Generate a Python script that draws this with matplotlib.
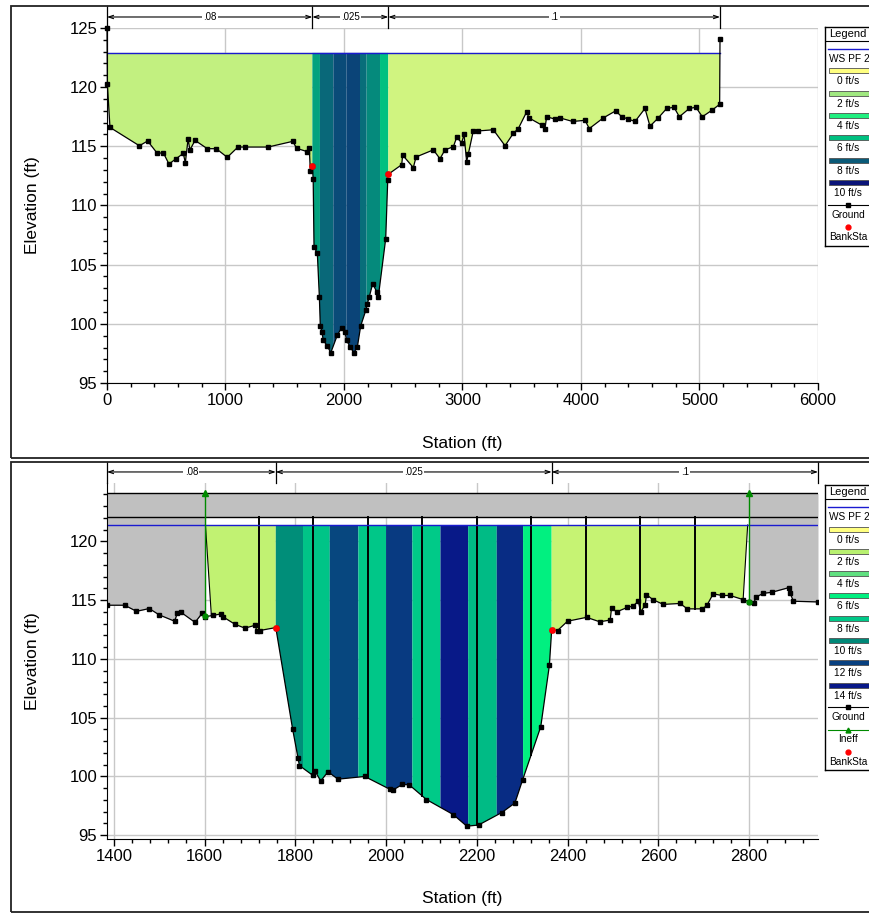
import numpy as np
import matplotlib
matplotlib.use("Agg")
import matplotlib.pyplot as plt
from matplotlib.colors import LinearSegmentedColormap
from matplotlib.patches import Rectangle, Polygon
from matplotlib.transforms import blended_transform_factory
from matplotlib.ticker import MultipleLocator

plt.rcParams["font.family"] = ["Liberation Sans", "DejaVu Sans"]

W, H = 870, 913

# ---- upper cross section -------------------------------------------------
top_sta = [0, 3, 25, 273, 343, 425, 475, 523, 582, 644, 661, 684, 700, 743, 847, 922,
           1015, 1105, 1165, 1359, 1567, 1601, 1690, 1707, 1716, 1733, 1740, 1747, 1775,
           1792, 1800, 1814, 1825, 1859, 1888, 1944, 1980, 2008, 2022, 2051, 2084, 2113,
           2141, 2186, 2197, 2214, 2242, 2276, 2290, 2352, 2369, 2374, 2487, 2495, 2585,
           2608, 2754, 2810, 2852, 2923, 2951, 2993, 3013, 3035, 3049, 3091, 3133, 3260,
           3359, 3429, 3471, 3541, 3561, 3668, 3696, 3710, 3781, 3823, 3930, 4034, 4070,
           4188, 4293, 4343, 4399, 4456, 4540, 4582, 4652, 4723, 4785, 4830, 4914, 4970,
           5024, 5108, 5170, 5173]
top_elev = [125.0, 120.3, 116.6, 115.05, 115.45, 114.4, 114.46, 113.5, 113.95, 114.4, 113.6,
            115.6, 114.7, 115.5, 114.8, 114.8, 114.07, 114.94, 114.94, 114.94, 115.42,
            114.83, 114.55, 114.88, 112.9, 113.36, 112.2, 106.5, 105.96, 102.3, 99.83, 99.3,
            98.6, 98.14, 97.55, 99.05, 99.67, 99.33, 98.6, 98.06, 97.55, 98.06, 99.83,
            101.2, 101.7, 102.3, 103.4, 102.7, 102.3, 107.2, 112.15, 112.64, 113.45, 114.26,
            113.2, 114.1, 114.7, 113.95, 114.7, 114.97, 115.76, 115.3, 116.0, 113.7, 114.35,
            116.3, 116.3, 116.4, 115.05, 116.1, 116.5, 117.9, 117.4, 116.8, 116.5, 117.5,
            117.3, 117.4, 117.1, 117.2, 116.5, 117.4, 118.0, 117.5, 117.3, 117.1, 118.2,
            116.7, 117.4, 118.2, 118.3, 117.5, 118.2, 118.3, 117.5, 118.07, 118.55, 124.05]
top_bank_sta = [1733, 2374]
top_bank_elev = [113.36, 112.64]
top_ws = 122.9
top_n_sta = [0, 1733, 2374, 5173]
top_n_val = [".08", ".025", ".1"]
top_slice_sta = [0, 1733, 1797, 1910, 2020, 2135, 2191, 2304, 2374, 5173]
top_slice_vel = [1.3, 6.6, 7.7, 8.4, 8.6, 7.6, 7.05, 6.0, 1.0]
top_vel_levels = [0, 2, 4, 6, 8, 10]
top_vel_colors = ["#ffff80", "#a0e880", "#20f080", "#00c080", "#0a5a78", "#0a1478"]

# ---- lower cross section -------------------------------------------------
bot_sta = [1384, 1424, 1450, 1478, 1500, 1534, 1540, 1547, 1579, 1595, 1601, 1619, 1637,
           1640, 1667, 1689, 1711, 1716, 1722, 1757, 1794, 1806, 1809, 1838, 1843, 1856,
           1872, 1894, 1953, 2008, 2016, 2036, 2051, 2089, 2148, 2178, 2204, 2255, 2284,
           2301, 2341, 2360, 2365, 2378, 2400, 2442, 2471, 2494, 2497, 2508, 2532, 2544,
           2556, 2561, 2571, 2574, 2588, 2611, 2648, 2664, 2697, 2707, 2721, 2740, 2758,
           2787, 2801, 2811, 2815, 2831, 2850, 2887, 2890, 2898, 2952]
bot_elev = [114.57, 114.57, 114.05, 114.29, 113.75, 113.21, 113.9, 114.0, 113.11, 113.9,
            113.6, 113.7, 113.84, 113.6, 112.95, 112.62, 112.86, 112.35, 112.42, 112.67,
            104.05, 101.58, 100.93, 100.11, 100.5, 99.61, 100.4, 99.77, 100.0, 98.92, 98.86,
            99.32, 99.29, 98.04, 96.76, 95.77, 95.87, 96.93, 97.74, 99.71, 104.24, 109.46,
            112.46, 112.42, 113.21, 113.54, 113.16, 113.31, 114.34, 114.0, 114.39, 114.49,
            114.91, 114.0, 114.57, 115.47, 115.05, 114.64, 114.72, 114.26, 114.26, 114.55,
            115.54, 115.4, 115.4, 115.05, 114.85, 114.78, 115.25, 115.58, 115.67, 116.06,
            115.63, 114.91, 114.85]
bot_bank_sta = [1757, 2365]
bot_bank_elev = [112.67, 112.46]
bot_ws = 121.4
bot_ineff_sta = [1600, 2800]
bot_ineff_elev = 124.1
bot_lid_elev = 122.05
bot_eff_top = [1602, 2797]
bot_eff_toe = [1615, 2787]
bot_dist_lines = [1720, 1840, 1960, 2080, 2200, 2320, 2440, 2560, 2680]
bot_n_sta = [1385, 1757, 2365, 2952]
bot_n_val = [".08", ".025", ".1"]
bot_slice_sta = [1602, 1757, 1817, 1876, 1939, 2000, 2058, 2120, 2181, 2244, 2302, 2365, 2797]
bot_slice_vel = [1.8, 9.8, 8.1, 11.8, 8.0, 12.3, 7.9, 13.9, 8.4, 13.0, 6.0, 1.6]
bot_vel_levels = [0, 2, 4, 6, 8, 10, 12, 14]
bot_vel_colors = ["#ffff80", "#b8f070", "#60e080", "#00f080", "#00c888", "#008878",
                  "#084080", "#081888"]

WS_COLOR = "#1a1ad0"
GRAY = "#c0c0c0"
INEFF_GREEN = "#008a00"


def make_cmap(levels, colors):
    vmax = levels[-1]
    return LinearSegmentedColormap.from_list(
        "vel", [(lv / vmax, c) for lv, c in zip(levels, colors)]), vmax


def fill_slices(ax, sta, elev, ws, edges, vels, cmap, vmax, toe=None):
    sta = np.asarray(sta, float)
    elev = np.asarray(elev, float)
    for i, v in enumerate(vels):
        a, b = edges[i], edges[i + 1]
        a_bot, b_bot = a, b
        if toe is not None and i == 0:
            a_bot = toe[0]
        if toe is not None and i == len(vels) - 1:
            b_bot = toe[1]
        xs = np.concatenate([[a_bot], sta[(sta > a_bot) & (sta < b_bot)], [b_bot]])
        ys = np.minimum(np.interp(xs, sta, elev), ws)
        poly = [(a, ws)] + list(zip(xs, ys)) + [(b, ws)]
        ax.add_patch(Polygon(poly, closed=True, facecolor=cmap(v / vmax),
                             edgecolor="none", zorder=1))


def roughness_bar(ax, edges, labels, y_line, y_t0, y_t1):
    tr = blended_transform_factory(ax.transData, ax.transAxes)
    for s in edges:
        ax.plot([s, s], [y_t0, y_t1], transform=tr, color="k", lw=0.9, clip_on=False)
    for a, b, lab in zip(edges[:-1], edges[1:], labels):
        ax.annotate("", xy=(a, y_line), xytext=(b, y_line), xycoords=tr, textcoords=tr,
                    arrowprops=dict(arrowstyle="<->,head_length=0.35,head_width=0.12",
                                    lw=0.8, color="k", shrinkA=0, shrinkB=0),
                    annotation_clip=False)
        ax.text((a + b) / 2, y_line, lab, transform=tr, ha="center", va="center",
                fontsize=7, bbox=dict(facecolor="white", edgecolor="none", pad=1.0),
                clip_on=False)


def style_axes(ax, xmaj, xmin, xlabel_y):
    ax.xaxis.set_major_locator(MultipleLocator(xmaj))
    ax.xaxis.set_minor_locator(MultipleLocator(xmin))
    ax.yaxis.set_major_locator(MultipleLocator(5))
    ax.yaxis.set_minor_locator(MultipleLocator(1))
    ax.tick_params(which="major", direction="out", length=5, width=1, labelsize=12, pad=2)
    ax.tick_params(which="minor", direction="out", length=3, width=1)
    ax.grid(True, which="major", color="#c8c8c8", lw=1)
    ax.set_axisbelow(True)
    for side in ("top", "right"):
        ax.spines[side].set_visible(False)
    ax.set_xlabel("Station (ft)", fontsize=12.5)
    ax.set_ylabel("Elevation (ft)", fontsize=12.5)
    ax.xaxis.set_label_coords(0.5, xlabel_y)
    ax.yaxis.set_label_coords(-0.094, 0.5)


def draw_legend(fig, top, bottom, levels, colors, ineff):
    x0, x1 = 825, 874
    lax = fig.add_axes([x0 / W, 1 - bottom / H, (x1 - x0) / W, (bottom - top) / H])
    lax.set_xlim(x0, x1)
    lax.set_ylim(bottom, top)
    lax.set_xticks([])
    lax.set_yticks([])
    for sp in lax.spines.values():
        sp.set_linewidth(1.0)
    cx = 848
    lax.text(cx, top + 7, "Legend", ha="center", va="center", fontsize=8)
    lax.plot([x0, x1], [top + 14, top + 14], color="k", lw=0.8)
    lax.plot([828, x1], [top + 22, top + 22], color=WS_COLOR, lw=1)
    lax.text(829, top + 32, "WS PF 2", ha="left", va="center", fontsize=7.3)
    y = top + 44
    for lv, col in zip(levels, colors):
        lax.add_patch(Rectangle((829, y - 2.5), 46, 5, facecolor=col,
                                edgecolor="#505050", lw=0.6))
        lax.text(cx, y + 10.5, f"{lv} ft/s", ha="center", va="center", fontsize=7.3)
        y += 22.3
    lax.plot([828, x1], [y, y], color="k", lw=0.8)
    lax.plot([cx], [y], marker="s", color="k", ms=3)
    lax.text(cx, y + 10, "Ground", ha="center", va="center", fontsize=7.3)
    if ineff:
        y += 22.3
        lax.plot([828, x1], [y, y], color=INEFF_GREEN, lw=0.8)
        lax.plot([cx], [y], marker="^", color=INEFF_GREEN, ms=3.5)
        lax.text(cx, y + 9.5, "Ineff", ha="center", va="center", fontsize=7.3)
    y += 22
    lax.plot([cx], [y], marker="o", color="red", ms=3.5)
    lax.text(cx, y + 10, "BankSta", ha="center", va="center", fontsize=7.3)


fig = plt.figure(figsize=(W / 100, H / 100), dpi=100)

# panel frames
for y0, y1 in [(6, 458), (462, 912)]:
    fig.add_artist(Rectangle((11 / W, 1 - y1 / H), (W + 10 - 11) / W, (y1 - y0) / H,
                             transform=fig.transFigure, fill=False, edgecolor="#222222",
                             lw=1.3))

# ---- top panel
ax1 = fig.add_axes([107 / W, 1 - 383 / H, 711 / W, 355 / H])
ax1.set_xlim(0, 6000)
ax1.set_ylim(95, 125)
cmap1, vmax1 = make_cmap(top_vel_levels, top_vel_colors)
fill_slices(ax1, top_sta, top_elev, top_ws, top_slice_sta, top_slice_vel, cmap1, vmax1)
ax1.plot([top_sta[0], top_sta[-1]], [top_ws, top_ws], color=WS_COLOR, lw=1, zorder=2)
ax1.plot(top_sta, top_elev, color="k", lw=0.9, marker="s", ms=3.2, zorder=3, clip_on=False)
ax1.plot(top_bank_sta, top_bank_elev, "o", color="red", ms=3.8, zorder=4)
style_axes(ax1, 1000, 200, -0.15)
roughness_bar(ax1, top_n_sta, top_n_val, 1.031, 1.0, 1.062)
draw_legend(fig, 27, 246, top_vel_levels, top_vel_colors, ineff=False)

# ---- bottom panel
ax2 = fig.add_axes([107 / W, 1 - 839 / H, 711 / W, 356 / H])
ax2.set_xlim(1385, 2952)
ax2.set_ylim(94.68, 124.97)
cmap2, vmax2 = make_cmap(bot_vel_levels, bot_vel_colors)
bsta = np.asarray(bot_sta, float)
belev = np.asarray(bot_elev, float)
# ineffective areas and lid band
xl = np.concatenate([bsta[bsta < bot_ineff_sta[0]], [bot_ineff_sta[0]]])
ax2.fill_between(xl, np.interp(xl, bsta, belev), bot_ineff_elev, color=GRAY, lw=0, zorder=1)
xr = np.concatenate([[bot_ineff_sta[1]], bsta[bsta > bot_ineff_sta[1]]])
ax2.fill_between(xr, np.interp(xr, bsta, belev), bot_ineff_elev, color=GRAY, lw=0, zorder=1)
ax2.axhspan(bot_lid_elev, bot_ineff_elev, color=GRAY, lw=0, zorder=1)
ax2.axhline(bot_lid_elev, color="k", lw=1, zorder=2)
ax2.axhline(bot_ineff_elev, color="k", lw=1, zorder=2)
fill_slices(ax2, bot_sta, bot_elev, bot_ws, bot_slice_sta, bot_slice_vel, cmap2, vmax2,
            toe=bot_eff_toe)
# edges of effective flow area
for top_x, toe_x in zip(bot_eff_top, bot_eff_toe):
    ax2.plot([top_x, toe_x], [bot_ws, np.interp(toe_x, bsta, belev)], color="k",
             lw=0.8, zorder=2)
for s in bot_dist_lines:
    ax2.plot([s, s], [np.interp(s, bsta, belev), bot_lid_elev], color="k", lw=1.4, zorder=2)
ax2.axhline(bot_ws, color=WS_COLOR, lw=1, zorder=2)
for s in bot_ineff_sta:
    g = np.interp(s, bsta, belev)
    ax2.plot([s, s], [g, bot_ineff_elev], color=INEFF_GREEN, lw=1, zorder=3)
    ax2.plot([s], [bot_ineff_elev], marker="^", color=INEFF_GREEN, ms=4, zorder=4,
             clip_on=False)
    ax2.plot([s], [g], marker="o", color=INEFF_GREEN, ms=3.5, zorder=4)
ax2.plot(bot_sta, bot_elev, color="k", lw=0.9, marker="s", ms=3.2, zorder=3)
ax2.plot(bot_bank_sta, bot_bank_elev, "o", color="red", ms=3.8, zorder=4)
style_axes(ax2, 200, 40, -0.146)
roughness_bar(ax2, bot_n_sta, bot_n_val, 1.031, 1.0, 1.059)
draw_legend(fig, 485, 770, bot_vel_levels, bot_vel_colors, ineff=True)

fig.savefig("out.png", dpi=100)
